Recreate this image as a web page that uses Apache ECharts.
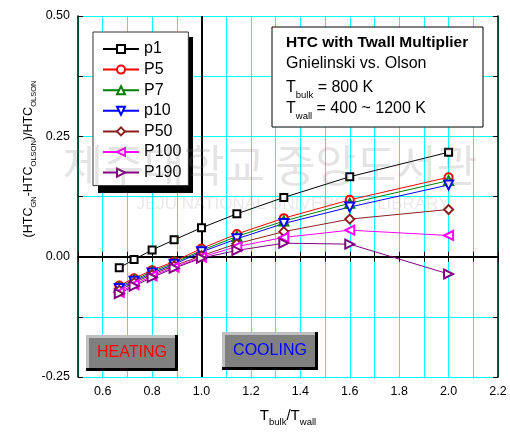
<!DOCTYPE html>
<html><head><meta charset="utf-8">
<script src="https://cdn.jsdelivr.net/npm/echarts@6/dist/echarts.min.js"></script>
<style>html,body{margin:0;padding:0;background:#fff}#c{width:510px;height:435px}</style>
</head><body><div id="c"></div>
<script>
const xRatio = [0.667, 0.727, 0.8, 0.889, 1.0, 1.143, 1.333, 1.6, 2.0];
const p1   = [-0.023, -0.006, 0.014, 0.035, 0.060, 0.089, 0.123, 0.166, 0.217];
const P5   = [-0.060, -0.045, -0.028, -0.010, 0.017, 0.047, 0.080, 0.118, 0.165];
const P7   = [-0.063, -0.048, -0.031, -0.013, 0.013, 0.042, 0.074, 0.111, 0.158];
const p10  = [-0.066, -0.051, -0.034, -0.016, 0.010, 0.037, 0.069, 0.103, 0.149];
const P50  = [-0.070, -0.054, -0.037, -0.019, 0.002, 0.027, 0.052, 0.078, 0.098];
const P100 = [-0.074, -0.058, -0.040, -0.022, -0.001, 0.021, 0.040, 0.055, 0.044];
const P190 = [-0.077, -0.061, -0.043, -0.024, -0.003, 0.013, 0.028, 0.026, -0.036];
const seriesNames = ['p1', 'P5', 'P7', 'p10', 'P50', 'P100', 'P190'];
const seriesValues = [p1, P5, P7, p10, P50, P100, P190];
const colors = ['#000000', '#ff0000', '#008000', '#0000ff', '#8b1f1f', '#ff00ff', '#800080'];
const symbols = ['emptyRect', 'emptyCircle', 'emptyTriangle', 'emptyTriangle', 'emptyDiamond', 'emptyTriangle', 'emptyTriangle'];
const rotates = [0, 0, 0, 180, 0, 90, -90];
const sizes = [7, 8, 9, 9, 9, 9, 9];

const FF = 'Liberation Sans, Arial, sans-serif';
const chart = echarts.init(document.getElementById('c'));

const series = seriesNames.map((n, i) => ({
  name: n, type: 'line', xAxisIndex: 0, yAxisIndex: 0,
  data: xRatio.map((x, j) => [x, seriesValues[i][j]]),
  symbol: symbols[i], symbolRotate: rotates[i], symbolSize: sizes[i],
  lineStyle: { color: colors[i], width: 1 },
  itemStyle: { color: colors[i], borderColor: colors[i], borderWidth: 1 },
  z: 3
}));
series[0].markLine = {
  silent: true, symbol: 'none', label: { show: false },
  lineStyle: { color: '#000', width: 2, type: 'solid' },
  data: [{ xAxis: 1 }, { yAxis: 0 }], z: 2
};

const subRich = (mainSize, subSize, lh, sublh) => ({
  m: { fontSize: mainSize, fontFamily: FF, color: '#000', lineHeight: lh },
  s: { fontSize: subSize, fontFamily: FF, color: '#000', lineHeight: sublh, verticalAlign: 'bottom' }
});

const option = {
  animation: false,
  grid: { left: 78, right: 12, top: 16, bottom: 58 },
  xAxis: [{
    type: 'value', min: 0.5, max: 2.2, interval: 0.1, position: 'bottom',
    axisLine: { lineStyle: { color: '#000', width: 1.5 } },
    axisTick: { inside: true, length: 5, lineStyle: { color: '#000' } },
    axisLabel: { color: '#000', fontSize: 12.5, fontFamily: FF, margin: 8,
      formatter: v => (Math.round(v * 10) % 2 === 0 ? v.toFixed(1) : '') },
    splitLine: { show: true, lineStyle: { color: '#00ffff', width: 1 } }
  }, {
    type: 'value', min: 0.5, max: 2.2, interval: 0.1, position: 'top',
    axisLine: { lineStyle: { color: '#000', width: 1.5 } },
    axisTick: { inside: true, length: 5, lineStyle: { color: '#000' } },
    axisLabel: { show: false }, splitLine: { show: false }
  }],
  yAxis: [{
    type: 'value', min: -0.25, max: 0.5, interval: 0.125, position: 'left',
    axisLine: { lineStyle: { color: '#000', width: 1.5 } },
    axisTick: { inside: true, length: 5, lineStyle: { color: '#000' } },
    axisLabel: { color: '#000', fontSize: 12.5, fontFamily: FF, margin: 8,
      formatter: v => (Math.abs(v / 0.25 - Math.round(v / 0.25)) < 1e-6 ? v.toFixed(2) : '') },
    splitLine: { show: true, lineStyle: { color: '#00ffff', width: 1 } }
  }, {
    type: 'value', min: -0.25, max: 0.5, interval: 0.125, position: 'right',
    axisLine: { lineStyle: { color: '#000', width: 1.5 } },
    axisTick: { inside: true, length: 5, lineStyle: { color: '#000' } },
    axisLabel: { show: false }, splitLine: { show: false }
  }],
  legend: {
    data: seriesNames, orient: 'vertical', left: 93, top: 32,
    itemWidth: 36, itemHeight: 10, itemGap: 4.6, padding: [9, 7, 5, 9],
    backgroundColor: '#fff', borderColor: '#333', borderWidth: 1,
    itemStyle: { borderWidth: 1 },
    textStyle: { fontSize: 16, fontFamily: FF, color: '#000' },
    selectedMode: false, z: 6
  },
  graphic: [
    { type: 'rect', z: 5, shape: { x: 98, y: 37, width: 95, height: 156 }, style: { fill: '#000' } },
    { type: 'rect', z: 5, shape: { x: 272, y: 27, width: 211, height: 100 }, style: { fill: '#fff', stroke: '#000', lineWidth: 1 } },
    { type: 'text', z: 6, style: { x: 286, y: 43, text: 'HTC with Twall Multiplier', fontSize: 15.5, fontWeight: 'bold', fontFamily: FF, fill: '#000', verticalAlign: 'middle' } },
    { type: 'text', z: 6, style: { x: 286, y: 64, text: 'Gnielinski vs. Olson', fontSize: 16, fontFamily: FF, fill: '#000', verticalAlign: 'middle' } },
    { type: 'text', z: 6, style: { x: 286, y: 88, text: '{m|T}{s|bulk}{m| = 800 K}', rich: subRich(16, 9.5, 24, 10), verticalAlign: 'middle' } },
    { type: 'text', z: 6, style: { x: 286, y: 109, text: '{m|T}{s|wall}{m| = 400 ~ 1200 K}', rich: subRich(16, 9.5, 24, 10), verticalAlign: 'middle' } },
    // HEATING button
    { type: 'rect', z: 5, shape: { x: 86, y: 335, width: 92, height: 36 }, style: { fill: '#000' } },
    { type: 'rect', z: 5, shape: { x: 86, y: 335, width: 89, height: 33 }, style: { fill: '#c0c0c0' } },
    { type: 'rect', z: 5, shape: { x: 89, y: 338, width: 86, height: 30 }, style: { fill: '#808080' } },
    { type: 'text', z: 6, style: { x: 132, y: 353, text: 'HEATING', fontSize: 16, fontFamily: FF, fill: '#ff0000', align: 'center', verticalAlign: 'middle' } },
    // COOLING button
    { type: 'rect', z: 5, shape: { x: 222, y: 332, width: 96, height: 38 }, style: { fill: '#000' } },
    { type: 'rect', z: 5, shape: { x: 222, y: 332, width: 93, height: 35 }, style: { fill: '#c0c0c0' } },
    { type: 'rect', z: 5, shape: { x: 225, y: 335, width: 90, height: 32 }, style: { fill: '#808080' } },
    { type: 'text', z: 6, style: { x: 270, y: 351, text: 'COOLING', fontSize: 16, fontFamily: FF, fill: '#0000ff', align: 'center', verticalAlign: 'middle' } },
    // axis titles
    { type: 'text', z: 6, style: { x: 288, y: 416, text: '{m|T}{s|bulk}{m|/T}{s|wall}', rich: subRich(15, 9.5, 22, 10), align: 'center', verticalAlign: 'middle' } },
    { type: 'text', z: 6, x: 29, y: 159, rotation: Math.PI / 2,
      style: { x: 0, y: 0, text: '{m|(HTC}{s|GN}{m|-HTC}{s|OLSON}{m|)/HTC}{s|OLSON}', rich: subRich(12.5, 7.5, 18, 8), align: 'center', verticalAlign: 'middle' } },
    // watermark
    { type: 'text', z: 20, silent: true, style: { x: 270, y: 165, text: '제주대학교 중앙도서관', fontSize: 44, fontFamily: 'Noto Sans CJK KR', fill: 'rgba(120,120,120,0.2)', align: 'center', verticalAlign: 'middle' } },
    { type: 'text', z: 20, silent: true, style: { x: 293, y: 204, text: 'JEJU NATIONAL UNIVERSITY LIBRARY', fontSize: 17, fontFamily: FF, fill: 'rgba(120,120,120,0.16)', align: 'center', verticalAlign: 'middle' } }
  ],
  series: series
};
chart.setOption(option);
</script>
</body></html>
